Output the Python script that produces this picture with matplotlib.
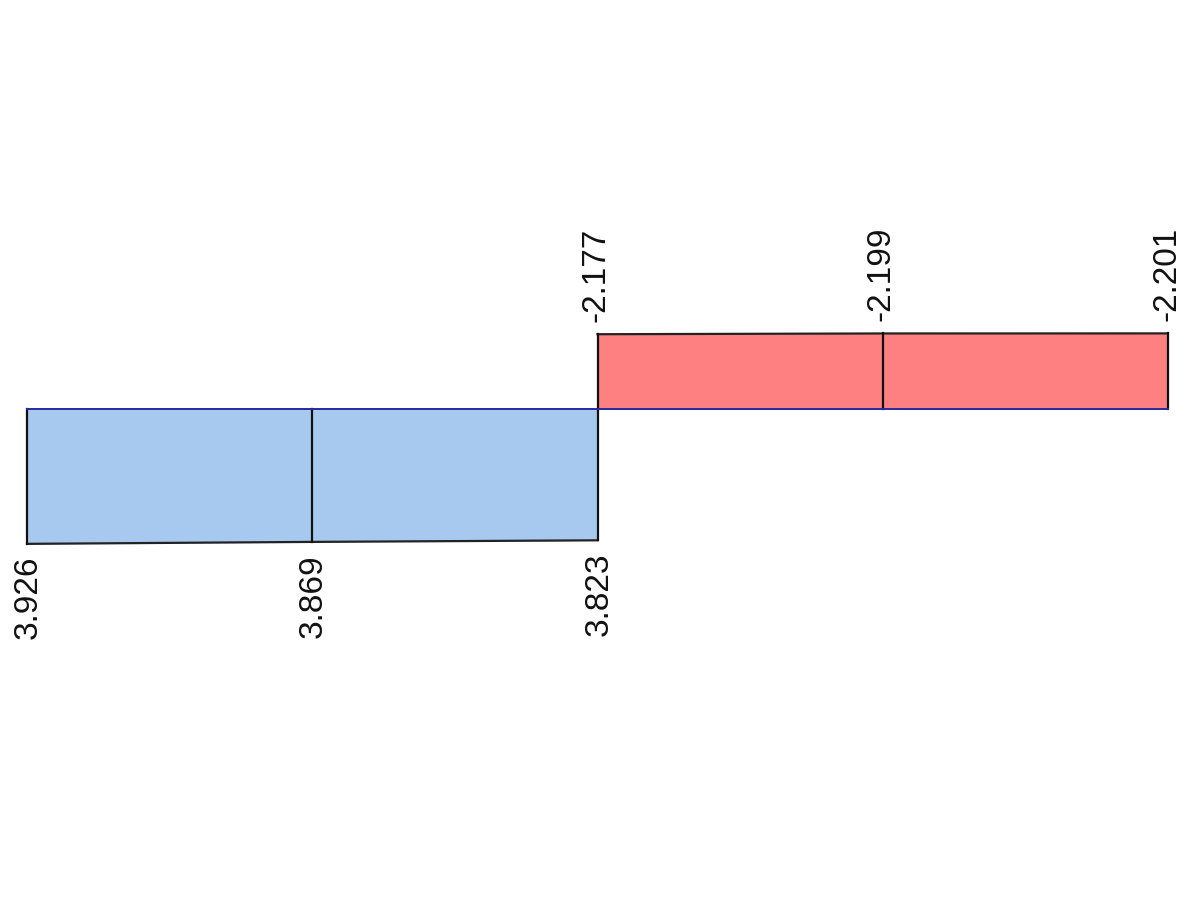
import matplotlib
matplotlib.use("Agg")
import matplotlib.pyplot as plt

# Data
blue_x = [0, 1, 2]
blue_vals = [3.926, 3.869, 3.823]
red_x = [2, 3, 4]
red_vals = [-2.177, -2.199, -2.201]
blue_labels = ["3.926", "3.869", "3.823"]
red_labels = ["-2.177", "-2.199", "-2.201"]

plt.rcParams['font.family'] = ['Liberation Sans', 'DejaVu Sans']

fig = plt.figure(figsize=(12, 9), dpi=100)
ax = fig.add_axes([0, 0, 1, 1])
ax.set_axis_off()

px_per_x = 285.25
px_per_y = 34.35
x0_px = 27
y0_px = 409
ax.set_xlim(-x0_px / px_per_x, (1200 - x0_px) / px_per_x)
ax.set_ylim((900 - y0_px) / px_per_y, -y0_px / px_per_y)

blue_fill = '#a7c9ef'
red_fill = '#ff8080'

ax.fill_between(blue_x, 0, blue_vals, color=blue_fill, lw=0, zorder=1)
ax.fill_between(red_x, 0, red_vals, color=red_fill, lw=0, zorder=1)

# outlines
ax.plot(blue_x, blue_vals, color='#222222', lw=1.6, zorder=2)
ax.plot(red_x, red_vals, color='#222222', lw=1.6, zorder=2)
for xv, v in zip(blue_x, blue_vals):
    ax.plot([xv, xv], [0, v], color='#111111', lw=1.6, zorder=2)
for xv, v in zip(red_x, red_vals):
    ax.plot([xv, xv], [0, v], color='#111111', lw=1.6, zorder=2)

# baseline
ax.plot([blue_x[0], red_x[-1]], [0, 0], color='#2a2a9a', lw=1.4, zorder=3)

# labels
off = 12 / px_per_y
for xv, v, t in zip(blue_x, blue_vals, blue_labels):
    ax.text(xv + 0.005, v + off, t, rotation=90, ha='center', va='top',
            fontsize=24, color='#111111')
for xv, v, t in zip(red_x, red_vals, red_labels):
    ax.text(xv - 0.005, v - off, t, rotation=90, ha='center', va='bottom',
            fontsize=24, color='#111111')

fig.savefig('out.png', dpi=100)
